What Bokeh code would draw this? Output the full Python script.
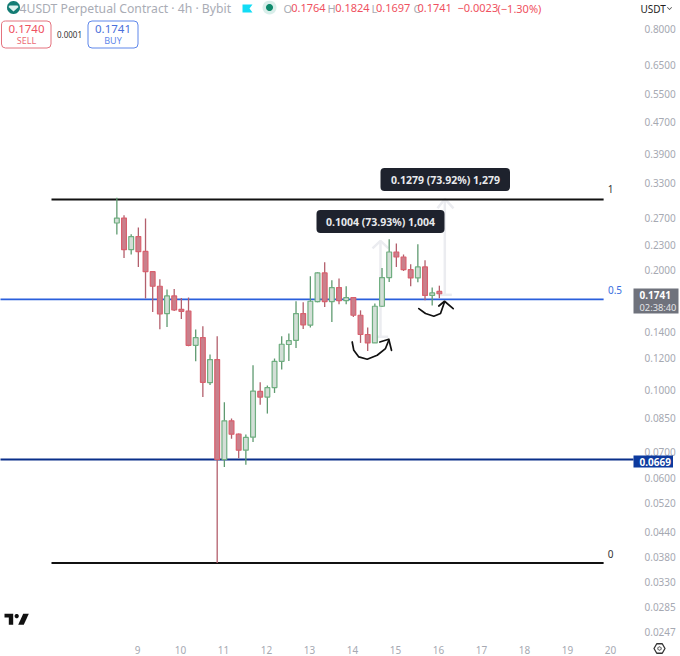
import numpy as np
from bokeh.embed import file_html
from bokeh.models import (BoxAnnotation, ColumnDataSource, FixedTicker, Label,
                          NumeralTickFormatter, PolyAnnotation, Range1d)
from bokeh.plotting import figure
from bokeh.resources import INLINE

# ---------- chart data ----------
opens  = [.2619,.2695,.2245,.2421,.2223,.1978,.1818,.1553,.1719,.1591,.1576,.1293,.1352,.1042,.1191,.0669,
          .0836,.0774,.0706,.0761,.0991,.0959,.1013,.1179,.1299,.1331,.1553,.1452,.1664,.1963,.1664,.1804,
          .1673,.1703,.1538,.1376,.1311,.1620,.1911,.2215,.2152,.2001,.1907,.2032,.1724,.1764]
highs  = [.3030,.2738,.2454,.2550,.2686,.1982,.1892,.1783,.1790,.1699,.1703,.1416,.1444,.1226,.1363,.0931,
          .0848,.0777,.0773,.1152,.1044,.1025,.1198,.1363,.1384,.1667,.1657,.1926,.1971,.2087,.1881,.1900,
          .1818,.1707,.1582,.1433,.1645,.2020,.2383,.2325,.2182,.2064,.2316,.2111,.1804,.1824]
lows   = [.2449,.2140,.2182,.2032,.1693,.1567,.1418,.1438,.1576,.1505,.1286,.1179,.0959,.1028,.0368,.0641,
          .0754,.0674,.0649,.0740,.0917,.0872,.0982,.1124,.1181,.1273,.1421,.1433,.1657,.1613,.1480,.1638,
          .1638,.1523,.1311,.1251,.1311,.1613,.1863,.2032,.1985,.1818,.1860,.1676,.1627,.1697]
closes = [.2695,.2245,.2421,.2220,.1978,.1818,.1549,.1719,.1585,.1573,.1293,.1352,.1044,.1191,.0669,.0836,
          .0774,.0706,.0760,.0993,.0959,.1013,.1179,.1301,.1329,.1553,.1455,.1667,.1963,.1664,.1804,.1673,
          .1703,.1538,.1376,.1311,.1620,.1911,.2215,.2152,.2001,.1907,.2032,.1724,.1749,.1741]
first_day = 8.52
bars_per_day = 6

price_ticks = [.8,.65,.55,.47,.39,.33,.27,.23,.2,.14,.12,.1,.085,.07,.06,.052,.044,.038,.033,.0285,.0247]
day_ticks = list(range(9, 21))

fib_one, fib_half, fib_zero, level_line = 0.300, 0.1686, 0.0368, 0.0669
fib_start, fib_end = 7.0, 19.84
range_a = dict(x=14.651, low=.1358, high=.2362, head_l=14.465, head_r=14.837, head_y=.2263, base_l=14.48, base_r=14.83)
range_b = dict(x=16.147, low=.1730, high=.3009, head_l=15.977, head_r=16.349, head_y=.2850, base_l=15.99, base_r=16.31)
curve_a_x = [13.993,14.03,14.147,14.342,14.574,14.767,14.844]
curve_a_y = [.1318,.1256,.1209,.1193,.1221,.1269,.1331]
head_a_x = [14.635,14.844,14.907]
head_a_y = [.1318,.1339,.1256]
curve_b_x = [15.542,15.698,15.891,16.047,16.14]
curve_b_y = [.1598,.1553,.1529,.1553,.1660]
head_b_x = [16.007,16.14,16.342]
head_b_y = [.1622,.1667,.1598]

GREY = "#a6a9b2"
RED = "#ef5160"
FONT = "Noto Sans"

p = figure(width=680, height=656, margin=0, output_backend="svg", toolbar_location=None,
           y_axis_type="log", y_axis_location="right",
           x_range=Range1d(5.814, 21.628), y_range=Range1d(0.02146, 0.9457),
           min_border_left=0, min_border_top=0, min_border_right=0, min_border_bottom=0)
p.outline_line_color = None
p.grid.visible = False

for ax in (p.xaxis[0], p.yaxis[0]):
    ax.axis_line_color = None
    ax.major_tick_line_color = None
    ax.minor_tick_line_color = None
    ax.major_label_text_color = GREY
    ax.major_label_text_font = FONT
    ax.major_label_text_font_size = "10px"
p.yaxis[0].ticker = FixedTicker(ticks=price_ticks)
p.yaxis[0].formatter = NumeralTickFormatter(format="0.0000")
p.yaxis[0].major_label_standoff = -42
p.xaxis[0].ticker = FixedTicker(ticks=day_ticks)
p.xaxis[0].major_label_standoff = -17

# ---------- measure arrows ----------
for r in (range_a, range_b):
    p.multi_line([[r["x"], r["x"]], [r["head_l"], r["x"], r["head_r"]], [r["base_l"], r["base_r"]]],
                 [[r["low"], r["high"]], [r["head_y"], r["high"], r["head_y"]], [r["low"], r["low"]]],
                 line_color="#ebecf0", line_width=2.5)

# ---------- level lines ----------
p.line([fib_start, fib_end], [fib_one, fib_one], line_color="#111111", line_width=2)
p.line([fib_start, fib_end], [fib_zero, fib_zero], line_color="#111111", line_width=2)
p.line([5.8, fib_end], [fib_half, fib_half], line_color="#2a5fdc", line_width=1.8)
p.line([5.8, 20.535], [level_line, level_line], line_color="#0a2f8a", line_width=1.8)

# ---------- candles ----------
x = [first_day + i / bars_per_day for i in range(len(opens))]
up = [c >= o for o, c in zip(opens, closes)]
src = ColumnDataSource(dict(
    x=x, o=opens, h=highs, l=lows, c=closes,
    top=[max(a, b) for a, b in zip(opens, closes)],
    bottom=[min(a, b) for a, b in zip(opens, closes)],
    wick=["#5f9a70" if u else "#b35f6c" for u in up],
    fill=["#d3dfd7" if u else "#c9808c" for u in up],
    edge=["#6fae80" if u else "#d9606e" for u in up],
))
p.segment("x", "h", "x", "l", source=src, line_color="wick", line_width=1.3)
p.vbar("x", 4.8 / 43, "top", "bottom", source=src, fill_color="fill", line_color="edge", line_width=1.2)

# ---------- hand drawn curves ----------
for xs, ys in ((curve_a_x, curve_a_y), (head_a_x, head_a_y), (curve_b_x, curve_b_y), (head_b_x, head_b_y)):
    p.line(xs, ys, line_color="#111111", line_width=1.7, line_join="round", line_cap="round")


# ---------- interface chrome, in canvas pixels ----------
def box(l, r, t, b, fill, line=None, radius=0, lw=1):
    p.add_layout(BoxAnnotation(left=l, right=r, top=t, bottom=b, left_units="canvas", right_units="canvas",
                               top_units="canvas", bottom_units="canvas", fill_color=fill, fill_alpha=1,
                               line_color=line, line_alpha=1 if line else 0, line_width=lw, border_radius=radius))


def text(px, py, s, color, size=10, align="left", style="normal"):
    p.add_layout(Label(x=px, y=py, x_units="canvas", y_units="canvas", text=s, text_color=color,
                       text_font=FONT, text_font_size=f"{size}px", text_align=align,
                       text_baseline="middle", text_font_style=style))


def poly(xs, ys, fill, line=None, fill_alpha=1.0, lw=1):
    p.add_layout(PolyAnnotation(xs=list(xs), ys=list(ys), xs_units="canvas", ys_units="canvas",
                                fill_color=fill, fill_alpha=fill_alpha, line_color=line,
                                line_alpha=1 if line else 0, line_width=lw))


def ring(cx, cy, r, n=24, start=0.0):
    t = np.linspace(0, 2 * np.pi, n, endpoint=False) + start
    return cx + r * np.cos(t), cy + r * np.sin(t)


# tooltips of the measure tool
box(316, 444, 209.5, 232.5, "#1e222d", radius=4)
text(380, 221.5, "0.1004 (73.93%) 1,004", "#e8e9ec", 10.5, "center", "bold")
box(380, 509.5, 167.5, 190.5, "#1e222d", radius=4)
text(445, 179.5, "0.1279 (73.92%) 1,279", "#e8e9ec", 10.5, "center", "bold")

# fib labels
text(610, 188.5, "1", "#333333", 10, "center")
text(614.5, 289.5, "0.5", "#3b6fe0", 10, "center")
text(610, 553, "0", "#333333", 10, "center")

# price tags
box(633, 678, 288, 313, "#6f727c")
text(639, 294.5, "0.1741", "#ffffff", 10, "left", "bold")
text(639, 306.5, "02:38:40", "#e4e5e8", 9.3)
box(633, 672.5, 455, 467, "#0d3a9e")
text(639, 461, "0.0669", "#ffffff", 10, "left", "bold")

# header
poly(*ring(13, 7, 6.5), "#137c74")
poly([9, 17, 18, 13, 8], [5, 5, 6.5, 11, 6.5], "#dff3f0")
text(19, 7.5, "4USDT Perpetual Contract \u00b7 4h \u00b7 Bybit", "#a9acb5", 12.2)
poly([242, 252, 249, 252, 242], [4, 4, 8, 12, 12], "#12dcf5")
poly(*ring(269, 7, 7), "#d9eeea")
poly(*ring(269, 7, 3.5), "#0f8a6c")
for lx, s, vx, v in ((283, "O", 290.7, "0.1764"), (327, "H", 334.7, "0.1824"),
                     (371, "L", 375.5, "0.1697"), (413, "C", 417, "0.1741")):
    text(lx, 7.5, s, "#a9acb5", 11)
    text(vx, 7.5, v, RED, 11)
text(457, 7.5, "\u22120.0023", RED, 11)
text(497, 7.5, "(\u22121.30%)", RED, 11)

# buy / sell buttons
box(1, 50.5, 20.5, 47.5, "#ffffff", "#e4737e", radius=4)
text(26, 28.5, "0.1740", RED, 11.5, "center")
text(26, 40, "SELL", "#ec6a76", 9, "center")
text(69, 33.5, "0.0001", "#333333", 8, "center")
box(87.5, 137.5, 20.5, 47.5, "#ffffff", "#5f87ea", radius=4)
text(112.5, 28.5, "0.1741", "#4a6fdb", 11.5, "center")
text(112.5, 40, "BUY", "#5f87ea", 9, "center")

# currency menu
text(640, 8, "USDT", "#222222", 10)
poly([666.5, 669, 671.5, 671, 669, 667], [7, 9.5, 7, 6.5, 8.6, 6.5], "#444444")

# logo
poly([4, 12.7, 12.7, 8.3, 8.3, 4], [613.3, 613.3, 624.3, 624.3, 617, 617], "#111111")
poly(*ring(16.2, 615.6, 2.1), "#111111")
poly([22.7, 28.3, 23.3, 17.7], [613.3, 613.3, 624.3, 624.3], "#111111")

# settings icon
poly(*ring(659, 648, 5.5, 6), "#ffffff", "#333333", lw=1.3)
poly(*ring(659, 648, 1.7, 12), "#ffffff", "#333333", lw=1)

open("out.html", "w").write(file_html(p, INLINE))
